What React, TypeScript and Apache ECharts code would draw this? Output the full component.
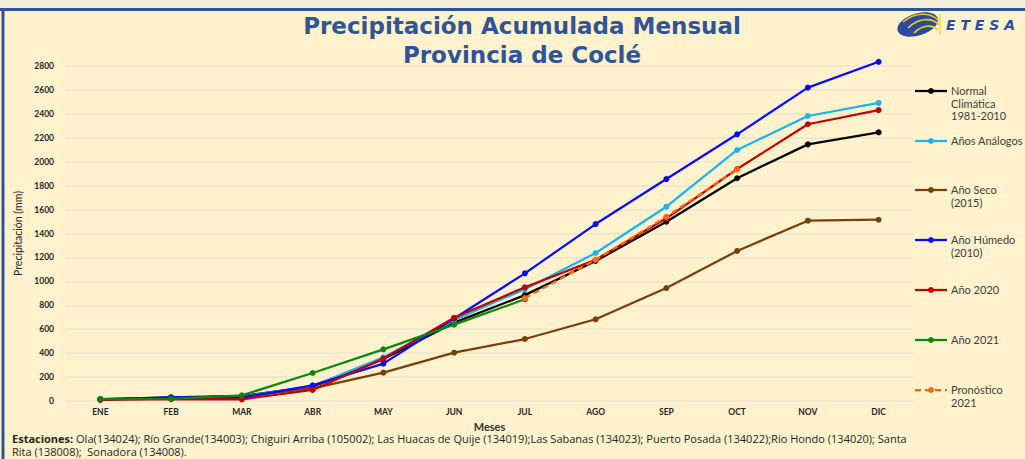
import React, { useEffect, useRef } from "react";
import * as echarts from "echarts";

const months = ["ENE", "FEB", "MAR", "ABR", "MAY", "JUN", "JUL", "AGO", "SEP", "OCT", "NOV", "DIC"];

const normal = [15, 30, 42, 120, 350, 655, 885, 1170, 1498, 1862, 2145, 2246];
const analogos = [12, 25, 35, 125, 365, 677, 935, 1237, 1624, 2098, 2382, 2491];
const seco = [15, 25, 35, 105, 237, 404, 518, 683, 944, 1254, 1507, 1515];
const humedo = [12, 30, 28, 131, 312, 690, 1067, 1479, 1855, 2229, 2619, 2835];
const a2020 = [10, 15, 14, 92, 354, 696, 950, 1180, 1527, 1939, 2313, 2432];
const a2021 = [15, 17, 47, 234, 432, 638, 850, null, null, null, null, null];
const pronostico = [null, null, null, null, null, null, 860, 1180, 1540, 1935, null, null];

const seriesNames = [
  "Normal Climática 1981-2010",
  "Años Análogos",
  "Año Seco (2015)",
  "Año Húmedo (2010)",
  "Año 2020",
  "Año 2021",
  "Pronóstico 2021",
];
const legendLabels = [
  "Normal\nClimática\n1981-2010",
  "Años Análogos",
  "Año Seco\n(2015)",
  "Año Húmedo\n(2010)",
  "Año 2020",
  "Año 2021",
  "Pronóstico\n2021",
];
const seriesData = [normal, analogos, seco, humedo, a2020, a2021, pronostico];
const seriesColors = ["#000000", "#1cb4ee", "#7a3e0c", "#0a0aff", "#c00000", "#0c870c", "#ff6a10"];
const seriesDashed = [false, false, false, false, false, false, true];

const yTicks = { min: 0, max: 2800, interval: 200 };

const titleLines = ["Precipitación Acumulada Mensual", "Provincia de Coclé"];
const footerLine1 =
  "{b|Estaciones:} Ola(134024); Río Grande(134003); Chiguiri Arriba (105002); Las Huacas de Quije (134019);Las Sabanas (134023); Puerto Posada (134022);Río Hondo (134020); Santa";
const footerLine2 = "Rita (138008);  Sonadora (134008).";

const FONT = "Lato, 'Open Sans', sans-serif";
const FOOT_FONT = "'Open Sans', Lato, sans-serif";
const TITLE_FONT = "'DejaVu Sans', Verdana, sans-serif";

export default function App() {
  const ref = useRef<HTMLDivElement>(null);

  useEffect(() => {
    document.body.style.margin = "0";
    if (!ref.current) return;
    const chart = echarts.init(ref.current, undefined, { renderer: "svg" });

    const legendY = [91, 141, 190, 240, 290, 340, 390];
    const legendGraphics: any[] = [];
    seriesNames.forEach((_, i) => {
      const y = legendY[i];
      legendGraphics.push({
        type: "line",
        shape: { x1: 915, y1: y, x2: 947, y2: y },
        style: {
          stroke: seriesColors[i],
          lineWidth: 2.25,
          lineDash: seriesDashed[i] ? [6, 4] : null,
        },
        z: 10,
      });
      legendGraphics.push({
        type: "circle",
        shape: { cx: 931, cy: y, r: 3 },
        style: { fill: seriesColors[i] },
        z: 11,
      });
      legendGraphics.push({
        type: "text",
        x: 951,
        y: y - 6.5,
        style: {
          text: legendLabels[i],
          fill: "#404040",
          font: `11px ${FONT}`,
          lineHeight: 12.5,
          verticalAlign: "top",
          align: "left",
        },
        z: 10,
      });
    });

    const option: any = {
      animation: false,
      backgroundColor: "#fff2cc",
      grid: { left: 65, right: 111, top: 66, bottom: 58, containLabel: false },
      xAxis: {
        type: "category",
        data: months,
        boundaryGap: true,
        name: "Meses",
        nameLocation: "middle",
        nameGap: 13,
        nameTextStyle: { fontFamily: FONT, fontWeight: "bold", fontSize: 11, color: "#333333" },
        axisLine: { show: false },
        axisTick: { show: false },
        axisLabel: { fontFamily: FONT, fontWeight: "bold", fontSize: 8.5, color: "#262626", margin: 6 },
      },
      yAxis: {
        type: "value",
        min: yTicks.min,
        max: yTicks.max,
        interval: yTicks.interval,
        name: "Precipitación (mm)",
        nameLocation: "middle",
        nameGap: 40,
        nameRotate: 90,
        nameTextStyle: { fontFamily: FONT, fontSize: 10.5, color: "#262626" },
        axisLine: { show: false },
        axisTick: { show: false },
        axisLabel: {
          fontFamily: FONT,
          fontWeight: "bold",
          fontSize: 8.5,
          color: "#262626",
          margin: 11,
          formatter: (v: number) => String(v),
        },
        splitLine: { lineStyle: { color: "#ede4cf", width: 1.5 } },
      },
      series: seriesNames.map((name, i) => ({
        name,
        type: "line",
        data: seriesData[i],
        clip: false,
        connectNulls: false,
        symbol: "circle",
        symbolSize: 6,
        itemStyle: { color: seriesColors[i] },
        lineStyle: {
          color: seriesColors[i],
          width: 2.25,
          type: seriesDashed[i] ? [6, 4] : "solid",
        },
        z: 2 + i,
      })),
      graphic: [
        { type: "rect", shape: { x: 0, y: 0, width: 1025, height: 8 }, style: { fill: "#f6efdc" }, z: 20 },
        { type: "line", shape: { x1: 0, y1: 9.5, x2: 1025, y2: 9.5 }, style: { stroke: "#2f5597", lineWidth: 3 }, z: 20 },
        { type: "line", shape: { x1: 3, y1: 8, x2: 3, y2: 459 }, style: { stroke: "#2f5597", lineWidth: 3 }, z: 20 },
        {
          type: "text",
          x: 522,
          y: 26,
          style: { text: titleLines[0], fill: "#2f5597", font: `bold 23px ${TITLE_FONT}`, align: "center", verticalAlign: "middle" },
          z: 20,
        },
        {
          type: "text",
          x: 522,
          y: 55,
          style: { text: titleLines[1], fill: "#2f5597", font: `bold 23px ${TITLE_FONT}`, align: "center", verticalAlign: "middle" },
          z: 20,
        },
        // logo
        {
          type: "ellipse",
          shape: { cx: 918, cy: 25, rx: 21, ry: 11 },
          rotation: 0.3,
          originX: 918,
          originY: 25,
          style: { fill: "#2d4b9e" },
          z: 20,
        },
        {
          type: "bezierCurve",
          shape: { x1: 903, y1: 22, x2: 938, y2: 20, cpx1: 915, cpy1: 12, cpx2: 930, cpy2: 12 },
          style: { stroke: "#f2cf1a", lineWidth: 1.6, fill: null },
          z: 21,
        },
        {
          type: "bezierCurve",
          shape: { x1: 908, y1: 28, x2: 939, y2: 25, cpx1: 918, cpy1: 18, cpx2: 932, cpy2: 17 },
          style: { stroke: "#f2cf1a", lineWidth: 1.6, fill: null },
          z: 21,
        },
        {
          type: "bezierCurve",
          shape: { x1: 914, y1: 33, x2: 938, y2: 30, cpx1: 922, cpy1: 25, cpx2: 932, cpy2: 24 },
          style: { stroke: "#f2cf1a", lineWidth: 1.6, fill: null },
          z: 21,
        },
        { type: "line", shape: { x1: 940, y1: 14, x2: 940, y2: 35 }, style: { stroke: "#f2cf1a", lineWidth: 1.2 }, z: 20 },
        {
          type: "text",
          x: 946,
          y: 25,
          style: {
            text: "E T E S A",
            fill: "#2d4b9e",
            font: `italic bold 14px 'DejaVu Sans', sans-serif`,
            align: "left",
            verticalAlign: "middle",
          },
          z: 20,
        },
        // footer
        {
          type: "text",
          x: 12,
          y: 432,
          style: {
            text: footerLine1 + "\n" + footerLine2,
            fill: "#262626",
            font: `11px ${FOOT_FONT}`,
            lineHeight: 13,
            verticalAlign: "top",
            rich: { b: { fontWeight: "bold", fontSize: 11, fontFamily: FOOT_FONT, fill: "#262626", lineHeight: 13 } },
          },
          z: 20,
        },
        ...legendGraphics,
      ],
    };

    chart.setOption(option);
    return () => chart.dispose();
  }, []);

  return (
    <div
      ref={ref}
      style={{ position: "fixed", left: 0, top: 0, width: 1025, height: 459 }}
    />
  );
}
